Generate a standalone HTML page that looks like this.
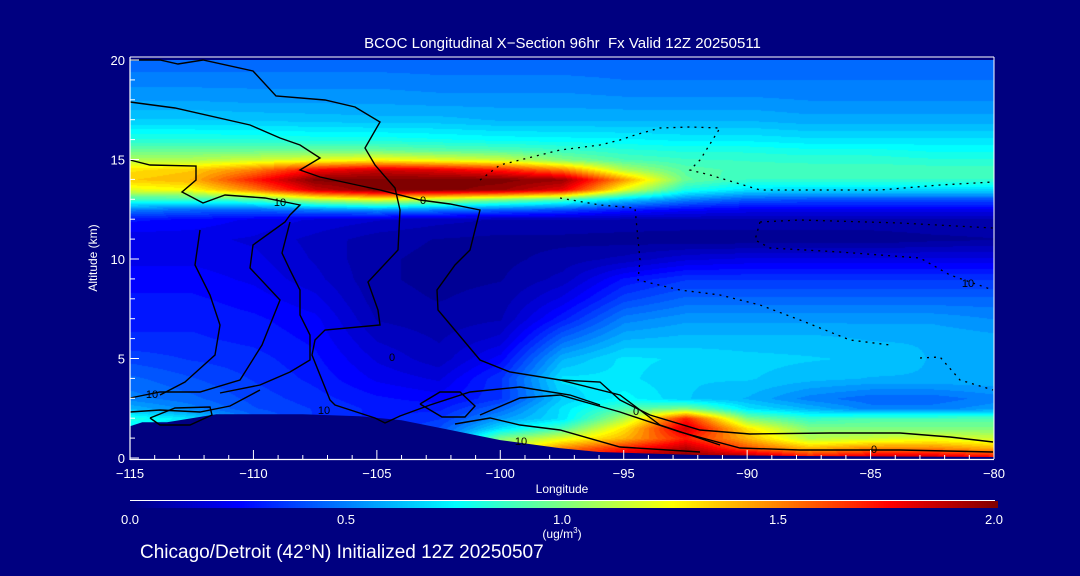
<!DOCTYPE html>
<html><head><meta charset="utf-8">
<style>
html,body{margin:0;padding:0;background:#000080;}
#root{position:relative;width:1080px;height:576px;background:#000080;overflow:hidden;font-family:"Liberation Sans",sans-serif;color:#fff;}
.t{position:absolute;white-space:nowrap;color:#fff;}
</style></head>
<body>
<div id="root">
<div class="t" style="left:0;width:1125px;text-align:center;top:35px;font-size:15px;">BCOC Longitudinal X−Section 96hr&nbsp; Fx Valid 12Z 20250511</div>
<canvas id="field" width="864" height="398" style="position:absolute;left:130px;top:60px;"></canvas>
<svg id="ov" width="1080" height="576" style="position:absolute;left:0;top:0;"></svg>
<div class="t" style="left:93px;top:258px;font-size:12px;transform:translate(-50%,-50%) rotate(-90deg);">Altitude (km)</div>
<div class="t" style="left:562px;top:482px;font-size:12px;transform:translateX(-50%);">Longitude</div>
<div style="position:absolute;left:130px;top:500px;width:865px;height:1px;background:#fff;"></div>
<canvas id="cbar" width="868" height="7" style="position:absolute;left:130px;top:501px;"></canvas>
<div class="t" style="left:130px;top:512px;font-size:13px;transform:translateX(-50%);">0.0</div>
<div class="t" style="left:346px;top:512px;font-size:13px;transform:translateX(-50%);">0.5</div>
<div class="t" style="left:562px;top:512px;font-size:13px;transform:translateX(-50%);">1.0</div>
<div class="t" style="left:778px;top:512px;font-size:13px;transform:translateX(-50%);">1.5</div>
<div class="t" style="left:994px;top:512px;font-size:13px;transform:translateX(-50%);">2.0</div>
<div class="t" style="left:562px;top:526px;font-size:12px;transform:translateX(-50%);">(ug/m<sup style="font-size:8px">3</sup>)</div>
<div class="t" style="left:140px;top:542px;font-size:19px;">Chicago/Detroit (42°N) Initialized 12Z 20250507</div>
</div>
<script>
const lons=[-115,-112.5,-110,-107.5,-105,-102.5,-100,-97.5,-95,-92.5,-90,-87.5,-85,-82.5,-80];
const alts=[0,0.5,1,1.5,2,2.5,3,4,5,6,7,8,9,10,11,12,12.5,13,13.5,14,14.5,15,15.5,16,17,18,19,20];
const conc=[
[.2,.2,.2,.2,.2,.4,1.0,1.6,1.9,2,2,1.8,1.9,1.9,1.8],
[.3,.3,.3,.3,.3,.5,1.1,1.5,1.7,1.9,1.6,1.4,1.5,1.5,1.4],
[.5,.5,.4,.35,.3,.4,1.0,1.2,1.4,1.7,1.4,1.1,1.15,1.2,1.15],
[.7,.65,.45,.35,.3,.4,.7,.9,1.3,1.85,1.3,1.0,1.0,1.0,1.0],
[.8,.7,.45,.35,.3,.35,.55,.7,1.1,1.7,1.0,.85,.9,.9,.9],
[.6,.5,.4,.35,.3,.3,.45,.7,.9,1.0,.7,.6,.5,.5,.55],
[.5,.45,.38,.33,.28,.25,.35,.65,.75,.65,.6,.5,.45,.45,.5],
[.45,.4,.35,.3,.22,.18,.35,.7,.7,.65,.65,.62,.6,.6,.6],
[.38,.35,.33,.28,.18,.12,.25,.6,.7,.68,.66,.65,.64,.6,.6],
[.32,.32,.3,.26,.14,.1,.16,.45,.6,.62,.62,.62,.6,.6,.58],
[.3,.3,.28,.24,.1,.08,.1,.3,.5,.55,.55,.55,.55,.55,.52],
[.28,.28,.25,.2,.08,.06,.08,.2,.38,.45,.45,.45,.45,.45,.45],
[.25,.25,.22,.16,.07,.05,.06,.12,.28,.35,.35,.35,.35,.35,.35],
[.22,.22,.2,.14,.07,.05,.05,.08,.12,.18,.2,.2,.2,.2,.2],
[.2,.2,.18,.13,.08,.06,.05,.05,.04,.03,.03,.03,.03,.05,.06],
[.28,.26,.22,.18,.15,.12,.1,.1,.1,.1,.1,.1,.1,.1,.1],
[.5,.45,.45,.5,.55,.5,.45,.4,.3,.25,.22,.22,.22,.22,.22],
[.85,.85,.9,1.1,1.2,1.1,1.0,.9,.65,.5,.42,.4,.4,.4,.4],
[1.2,1.25,1.5,1.85,2,2,1.95,1.8,1.2,.8,.7,.68,.68,.68,.68],
[1.35,1.4,1.7,2,2,2,2,1.95,1.45,.95,.85,.85,.85,.85,.85],
[1.3,1.35,1.5,1.75,1.85,1.8,1.7,1.5,1.1,.92,.88,.88,.88,.88,.88],
[1.1,1.1,1.15,1.2,1.25,1.2,1.15,1.0,.9,.86,.85,.84,.84,.82,.82],
[.95,.95,.95,.95,.95,.92,.9,.86,.82,.8,.8,.78,.78,.76,.76],
[.82,.82,.82,.8,.8,.78,.76,.75,.74,.72,.72,.7,.7,.7,.7],
[.65,.65,.64,.63,.62,.62,.6,.6,.6,.6,.6,.58,.58,.58,.58],
[.56,.56,.55,.55,.55,.54,.54,.54,.53,.53,.53,.52,.52,.52,.52],
[.5,.5,.5,.5,.5,.49,.49,.49,.48,.48,.48,.48,.48,.48,.48],
[.45,.45,.45,.45,.45,.45,.45,.45,.45,.45,.45,.45,.45,.45,.45]];
const terrainLon=[-115,-114.5,-113.5,-111.5,-108,-105.7,-104,-102,-100,-97.6,-96,-92,-88,-80];
const terrainAlt=[1.6,1.8,1.8,2.2,2.2,2.1,1.9,1.4,0.9,0.5,0.3,0.15,0.1,0.05];
const xTicks=[-115,-110,-105,-100,-95,-90,-85,-80];
const yTicks=[0,5,10,15,20];

const X0=130,X1=994,Y0=458,Y1=60;
const xs=l=>X0+(l+115)/35*(X1-X0);
const ys=a=>Y0-a/20*(Y0-Y1);
function jet(v){let t=Math.max(0,Math.min(1,v/2));
 const c=(x)=>Math.max(0,Math.min(1,x));
 return [c(1.5-Math.abs(4*t-3)),c(1.5-Math.abs(4*t-2)),c(1.5-Math.abs(4*t-1))].map(q=>Math.round(q*255));}
function seg(arr,v){for(let i=0;i<arr.length-1;i++){if(v<=arr[i+1])return i;}return arr.length-2;}
const cv=document.getElementById('field'),ctx=cv.getContext('2d');
const W=cv.width,H=cv.height,img=ctx.createImageData(W,H);
for(let py=0;py<H;py++){const a=(H-py)/H*20;const j=seg(alts,a);const fa=(a-alts[j])/(alts[j+1]-alts[j]);
 for(let px=0;px<W;px++){const l=-115+px/W*35;const i=seg(lons,l);const fl=(l-lons[i])/(lons[i+1]-lons[i]);
  const v=(conc[j][i]*(1-fl)+conc[j][i+1]*fl)*(1-fa)+(conc[j+1][i]*(1-fl)+conc[j+1][i+1]*fl)*fa;
  const q=Math.round(v/2*48)/48*2;const c=jet(q);const k=(py*W+px)*4;
  img.data[k]=c[0];img.data[k+1]=c[1];img.data[k+2]=c[2];img.data[k+3]=255;}}
ctx.putImageData(img,0,0);
const cb=document.getElementById('cbar'),cc=cb.getContext('2d');
for(let x=0;x<cb.width;x++){const c=jet(x/(cb.width-1)*2);cc.fillStyle=`rgb(${c[0]},${c[1]},${c[2]})`;cc.fillRect(x,0,1,7);}
const NS='http://www.w3.org/2000/svg',svg=document.getElementById('ov');
function mk(tag,at){const e=document.createElementNS(NS,tag);for(const k in at)e.setAttribute(k,at[k]);svg.appendChild(e);return e;}
let tp=`M${xs(-115)},${Y0} `+terrainLon.map((l,i)=>`L${xs(l).toFixed(1)},${ys(terrainAlt[i]).toFixed(1)}`).join(' ')+` L${X1},${Y0} Z`;
const terr=mk('path',{d:tp,fill:'#000080'});


const solid=[
"130,60 160,60 178,64 203,60 253,71 276,96 325,100 355,107 380,122 365,148 375,165 395,188 400,210 398,250 368,282 378,310 380,325 325,330 315,340 312,355 330,400 335,405 375,418 385,423 400,416 430,405 470,392 520,387 570,395 600,405",
"130,102 175,108 250,125 280,138 300,145 320,158 300,170 320,177 380,190 420,200 450,204 480,210 470,250 455,265 437,290 438,310 480,360 510,372 560,380 600,382 620,400 650,415 700,430 750,434 830,433 900,433 950,437 993,442",
"130,160 150,165 196,166 196,180 182,192 203,203 225,195 265,198 300,205 290,215 285,222 253,245 250,268 280,300 262,345 240,380 200,392 160,392 130,398",
"290,222 282,253 290,270 300,290 300,315 310,335 310,360 290,372 260,385 220,393",
"200,230 195,265 210,295 220,325 215,355 185,382 160,395",
"130,412 160,410 200,412 230,406 260,390",
"150,418 175,408 210,407 212,415 190,425 160,425 150,418",
"420,404 440,392 460,392 475,406 465,417 442,417 420,404",
"480,415 520,398 560,395 620,412 680,432 740,448 800,450 900,450 993,452",
"455,424 490,418 520,425 560,430 620,447 700,452",
"560,380 620,395 660,425 720,445"];
solid.forEach((p,i)=>{const e=mk('polyline',{points:p,fill:'none',stroke:'#000',"stroke-width":1.4});
 
 });
const dotted=[
"480,180 500,165 520,160 560,150 600,145 620,140 635,135 660,128 690,127 720,128 700,160 690,170 710,175 760,190 820,190 880,190 940,185 993,182",
"560,198 600,205 635,208 640,260 638,280 680,290 720,295 760,305 800,320 850,340 890,345",
"760,222 800,220 900,223 993,228",
"760,222 755,240 770,248 840,252 920,258 950,275 993,290",
"920,358 940,357 960,380 993,390"];
dotted.forEach(p=>{const e=mk('polyline',{points:p,fill:'none',stroke:'#000',"stroke-width":1.3,"stroke-dasharray":"2,5"});
 
 });
[["10",280,206],["0",423,204],["10",152,398],["10",324,414],["0",392,361],["10",521,445],["0",636,415],["0",874,453],["10",968,287]].forEach(a=>{
 const t=mk('text',{x:a[1],y:a[2],fill:'#000',"font-size":11,"font-family":"Liberation Sans, sans-serif","text-anchor":"middle"});t.textContent=a[0];
 
 });
const fr=mk('line',{x1:X0,y1:57,x2:X1,y2:57,stroke:'#fff',"stroke-width":1});


const rf=mk('line',{x1:X1,y1:57,x2:X1,y2:459,stroke:'#fff',"stroke-width":1});


const xa=mk('line',{x1:X0,y1:459.5,x2:X1,y2:459.5,stroke:'#fff',"stroke-width":1.2});


const ya=mk('line',{x1:X0,y1:57,x2:X0,y2:460,stroke:'#fff',"stroke-width":1.2});


for(let l=-115;l<=-80;l++){const maj=(l%5===0);const e=mk('line',{x1:xs(l),x2:xs(l),y1:459,y2:maj?450:455,stroke:'#fff'});
 
 }
xTicks.forEach(l=>{const t=mk('text',{x:xs(l),y:478,fill:'#fff',"font-size":13,"font-family":"Liberation Sans, sans-serif","text-anchor":"middle"});t.textContent=String(l).replace('-','−');
 
 });
for(let a=0;a<=20;a++){const maj=(a%5===0);const e=mk('line',{x1:X0,x2:X0+(maj?9:5),y1:ys(a),y2:ys(a),stroke:'#fff'});
 
 }
yTicks.forEach(a=>{const t=mk('text',{x:125,y:ys(a)+5,fill:'#fff',"font-size":13,"font-family":"Liberation Sans, sans-serif","text-anchor":"end"});t.textContent=a;
 
 });
</script>
</body></html>
